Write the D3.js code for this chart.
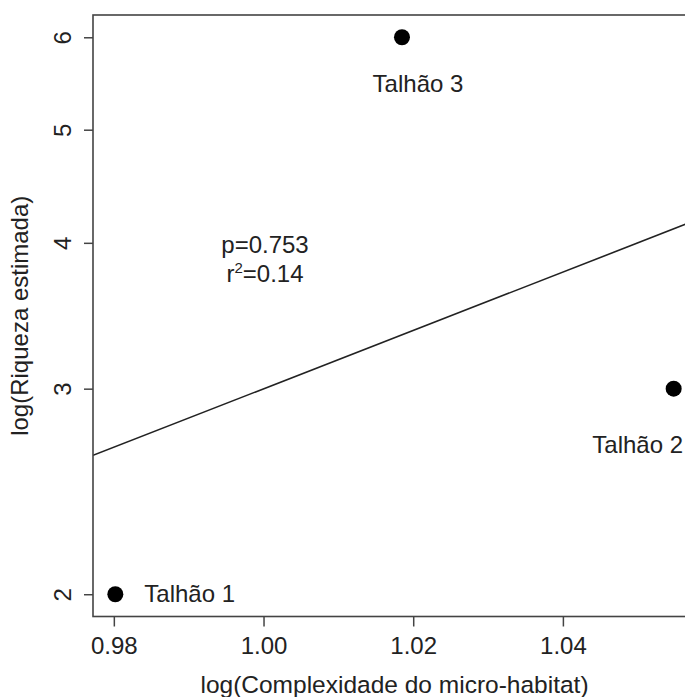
<!DOCTYPE html>
<html>
<head>
<meta charset="utf-8">
<script src="https://cdn.jsdelivr.net/npm/d3@7"></script>
<style>
  body { margin: 0; background: #fff; }
  svg { display: block; }
  text { font-family: "Liberation Sans", Arial, sans-serif; fill: #222; }
</style>
</head>
<body>
<svg id="drawing_region"></svg>
<script>
// data
const plots = ["Talhão 1", "Talhão 3", "Talhão 2"];
const complexity = [0.9802, 1.0185, 1.0548];   // log(Complexidade do micro-habitat)
const richness = [2, 6, 3];                      // Riqueza estimada (log axis)
const xTicks = [0.98, 1.00, 1.02, 1.04];
const yTicks = [2, 3, 4, 5, 6];
// fitted line: log10(y) = a + b * x
const fitA = -2.023;
const fitB = 2.5;
const statLines = ["p=0.753", "r2=0.14"];

// label placement relative to each point (pixels)
const labelOffsets = [
    {dx: 29, dy: 8, anchor: "start"},
    {dx: 16, dy: 55, anchor: "middle"},
    {dx: -36, dy: 64, anchor: "middle"}
];

const config = {
    width: 685,
    height: 697,
    left: 93, right: 696, top: 15, bottom: 616.5
};

const svg = d3.select("#drawing_region")
    .attr("width", config.width)
    .attr("height", config.height);

// R style 4% padding
const xExt = d3.extent(complexity);
const xPad = (xExt[1] - xExt[0]) * 0.04;
const xscale = d3.scaleLinear()
    .domain([xExt[0] - xPad, xExt[1] + xPad])
    .range([config.left, config.right]);

const yExt = d3.extent(richness);
const yPad = Math.pow(yExt[1] / yExt[0], 0.04);
const yscale = d3.scaleLog()
    .domain([yExt[0] / yPad, yExt[1] * yPad])
    .range([config.bottom, config.top]);

svg.append("clipPath").attr("id", "clip")
    .append("rect")
    .attr("x", config.left).attr("y", config.top)
    .attr("width", config.right - config.left)
    .attr("height", config.bottom - config.top);

// fitted line
const xd = xscale.domain();
const linePts = xd.map(x => [x, Math.pow(10, fitA + fitB * x)]);
svg.append("path")
    .attr("clip-path", "url(#clip)")
    .attr("d", d3.line().x(d => xscale(d[0])).y(d => yscale(d[1]))(linePts))
    .attr("fill", "none")
    .attr("stroke", "#222")
    .attr("stroke-width", 1.6);

// points
svg.selectAll("circle")
    .data(plots)
    .enter()
    .append("circle")
    .attr("cx", (d, i) => xscale(complexity[i]))
    .attr("cy", (d, i) => yscale(richness[i]))
    .attr("r", 8)
    .attr("fill", "#000");

// point labels
svg.selectAll("text.lab")
    .data(plots)
    .enter()
    .append("text")
    .attr("class", "lab")
    .attr("x", (d, i) => xscale(complexity[i]) + labelOffsets[i].dx)
    .attr("y", (d, i) => yscale(richness[i]) + labelOffsets[i].dy)
    .attr("text-anchor", (d, i) => labelOffsets[i].anchor)
    .style("font-size", "24px")
    .text(d => d);

// axes
const xaxis = d3.axisBottom(xscale)
    .tickValues(xTicks)
    .tickSize(10)
    .tickPadding(10)
    .tickFormat(d3.format(".2f"));
const xg = svg.append("g")
    .attr("transform", `translate(0, ${config.bottom})`)
    .call(xaxis);
xg.select(".domain").remove();
xg.selectAll("line").attr("stroke", "#444").attr("stroke-width", 1.5);
xg.selectAll("text")
    .style("font-size", "24px")
    .style("font-family", "Liberation Sans, Arial, sans-serif")
    .attr("fill", "#222");

const yaxis = d3.axisLeft(yscale)
    .tickValues(yTicks)
    .tickSize(9)
    .tickFormat(d3.format("d"));
const yg = svg.append("g")
    .attr("transform", `translate(${config.left}, 0)`)
    .call(yaxis);
yg.select(".domain").remove();
yg.selectAll("line").attr("stroke", "#444").attr("stroke-width", 1.5);
yg.selectAll("text")
    .attr("x", null).attr("dy", null)
    .attr("transform", "translate(-22, 0) rotate(-90)")
    .attr("text-anchor", "middle")
    .attr("fill", "#222")
    .style("font-size", "24px")
    .style("font-family", "Liberation Sans, Arial, sans-serif");

// box
svg.append("rect")
    .attr("x", config.left).attr("y", config.top)
    .attr("width", config.right - config.left)
    .attr("height", config.bottom - config.top)
    .attr("fill", "none")
    .attr("stroke", "#444")
    .attr("stroke-width", 1.6);

// stats text
const st = svg.append("text")
    .attr("x", 265).attr("y", 253)
    .attr("text-anchor", "middle")
    .style("font-size", "24px");
st.text(statLines[0]);
const st2 = svg.append("text")
    .attr("x", 265).attr("y", 282)
    .attr("text-anchor", "middle")
    .style("font-size", "24px");
st2.append("tspan").text(statLines[1].slice(0, 1));
st2.append("tspan").attr("dy", -9).style("font-size", "15px").text(statLines[1].slice(1, 2));
st2.append("tspan").attr("dy", 9).text(statLines[1].slice(2));

// axis titles
svg.append("text")
    .attr("x", (config.left + config.right) / 2)
    .attr("y", 693)
    .attr("text-anchor", "middle")
    .style("font-size", "24.5px")
    .text("log(Complexidade do micro-habitat)");

svg.append("text")
    .attr("transform", `translate(28, ${(config.top + config.bottom) / 2}) rotate(-90)`)
    .attr("text-anchor", "middle")
    .style("font-size", "24px")
    .text("log(Riqueza estimada)");
</script>
</body>
</html>
